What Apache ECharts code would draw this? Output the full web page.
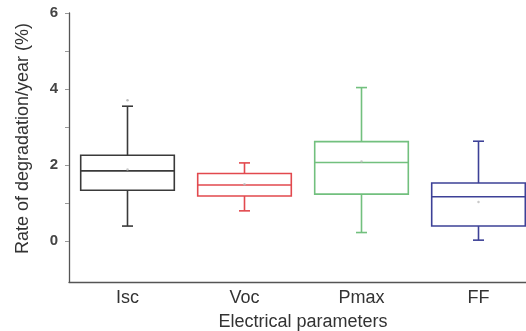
<!DOCTYPE html>
<html>
<head>
<meta charset="utf-8">
<script src="https://cdn.jsdelivr.net/npm/echarts@6/dist/echarts.min.js"></script>
<style>
  html, body { margin: 0; padding: 0; background: #fff; }
  #chart { width: 526px; height: 331px; }
</style>
</head>
<body>
<div id="chart"></div>
<script>
    var categories = ['Isc', 'Voc', 'Pmax', 'FF'];
    var lowWhisker = [0.40, 0.80, 0.23, 0.03];
    var q1 = [1.34, 1.19, 1.24, 0.40];
    var median = [1.85, 1.48, 2.07, 1.17];
    var q3 = [2.26, 1.78, 2.62, 1.53];
    var highWhisker = [3.55, 2.06, 4.04, 2.63];
    var means = [1.89, 1.50, 2.10, 1.03];
    var outliers = [[0, 3.71]];
    var colors = ['#3a3a3a', '#e2494e', '#72c07e', '#3d4197'];

    var boxData = categories.map(function(c, i) {
        return [i, lowWhisker[i], q1[i], median[i], q3[i], highWhisker[i]];
    });

    function renderBox(params, api) {
        var i = api.value(0);
        var color = colors[i];
        var bw = api.size([1, 0])[0] * 0.8;
        var cap = 11;
        var pLow = api.coord([i, api.value(1)]);
        var pQ1 = api.coord([i, api.value(2)]);
        var pMed = api.coord([i, api.value(3)]);
        var pQ3 = api.coord([i, api.value(4)]);
        var pHigh = api.coord([i, api.value(5)]);
        var x = pMed[0];
        var st = { stroke: color, lineWidth: 1.6, fill: null };
        return {
            type: 'group',
            children: [
                { type: 'rect', shape: { x: x - bw / 2, y: pQ3[1], width: bw, height: pQ1[1] - pQ3[1] }, style: { stroke: color, lineWidth: 1.6, fill: '#fff' } },
                { type: 'line', shape: { x1: x - bw / 2, y1: pMed[1], x2: x + bw / 2, y2: pMed[1] }, style: st },
                { type: 'line', shape: { x1: x, y1: pQ3[1], x2: x, y2: pHigh[1] }, style: st },
                { type: 'line', shape: { x1: x, y1: pQ1[1], x2: x, y2: pLow[1] }, style: st },
                { type: 'line', shape: { x1: x - cap / 2, y1: pHigh[1], x2: x + cap / 2, y2: pHigh[1] }, style: st },
                { type: 'line', shape: { x1: x - cap / 2, y1: pLow[1], x2: x + cap / 2, y2: pLow[1] }, style: st }
            ]
        };
    }

    var chart = echarts.init(document.getElementById('chart'));
    chart.setOption({
        animation: false,
        backgroundColor: '#fff',
        textStyle: { fontFamily: 'Liberation Sans' },
        grid: { left: 69, right: -11, top: 13, bottom: 49, outerBoundsMode: 'none', containLabel: false },
        xAxis: {
            type: 'category',
            data: categories,
            name: 'Electrical parameters',
            nameLocation: 'middle',
            nameGap: 31,
            nameTextStyle: { fontSize: 18, color: '#333' },
            axisLine: { onZero: false, lineStyle: { color: '#555', width: 1.3 } },
            axisTick: { alignWithLabel: true, length: 4, lineStyle: { color: '#999' } },
            axisLabel: { fontSize: 18, color: '#333', margin: 7 }
        },
        yAxis: {
            type: 'value',
            min: -1.07,
            max: 6,
            name: 'Rate of degradation/year (%)',
            nameLocation: 'middle',
            nameGap: 37,
            nameTextStyle: { fontSize: 18, color: '#333', padding: [0, 0, 0, 18] },
            splitLine: { show: false },
            axisLine: { show: true, lineStyle: { color: '#555', width: 1.3 } },
            axisTick: { show: true, length: 4, customValues: [0, 1, 2, 3, 4, 5, 6], lineStyle: { color: '#999' } },
            axisLabel: { fontSize: 15, fontWeight: 'bold', color: '#444', margin: 11, customValues: [0, 2, 4, 6] }
        },
        series: [
            {
                type: 'custom',
                renderItem: renderBox,
                encode: { x: 0, y: [1, 2, 3, 4, 5] },
                data: boxData
            },
            {
                type: 'scatter',
                symbolSize: 2.5,
                itemStyle: { color: '#bbb' },
                data: means.map(function(v, i) { return [i, v]; })
            },
            {
                type: 'scatter',
                symbolSize: 2.5,
                itemStyle: { color: '#aaa' },
                data: outliers
            }
        ]
    });
</script>
</body>
</html>
